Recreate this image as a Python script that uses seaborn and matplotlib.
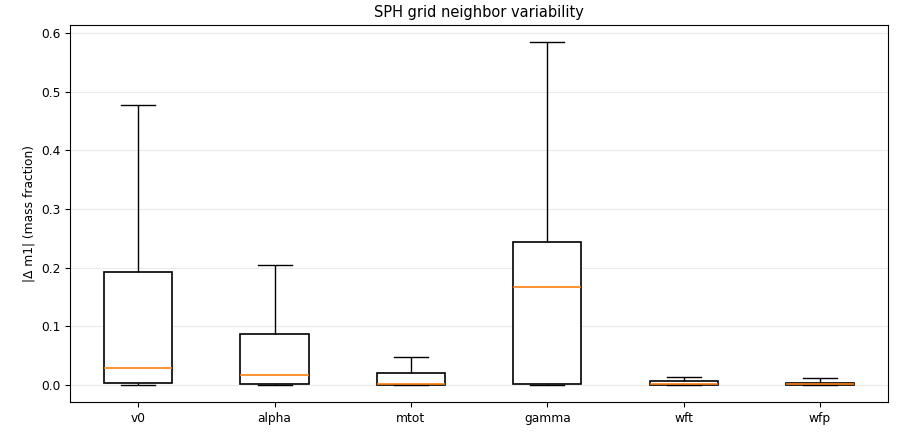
import numpy as np
import pandas as pd
import seaborn as sns
import matplotlib.pyplot as plt

# five-number summaries (min, q1, median, q3, max)
params = ["v0", "alpha", "mtot", "gamma", "wft", "wfp"]
mins = [0.0, 0.0, 0.0, 0.0, 0.0, 0.0]
q1s = [0.004, 0.002, 0.0005, 0.001, 0.0005, 0.0005]
medians = [0.029, 0.017, 0.002, 0.167, 0.002, 0.002]
q3s = [0.193, 0.086, 0.021, 0.244, 0.0065, 0.004]
maxs = [0.478, 0.205, 0.048, 0.585, 0.014, 0.011]

# 5 points per group -> linear percentiles hit q1/median/q3 exactly
rows = []
for p, a, b, c, d, e in zip(params, mins, q1s, medians, q3s, maxs):
    for v in (a, b, c, d, e):
        rows.append({"param": p, "dm1": v})
df = pd.DataFrame(rows)

plt.rcParams["font.size"] = 8.8

fig, ax = plt.subplots(figsize=(8.98, 4.37), dpi=100)
sns.boxplot(data=df, x="param", y="dm1", order=params, whis=(0, 100),
            showfliers=False, width=0.5, color="white", linecolor="black",
            linewidth=1.0,
            boxprops={"linewidth": 1.2},
            medianprops={"color": "#ff7f0e", "linewidth": 1.2},
            ax=ax)

ax.yaxis.grid(True, color="#ebebeb", linewidth=0.8)
ax.set_axisbelow(True)
ax.set_xlabel("")
ax.set_ylabel("|Δ m1| (mass fraction)")
ax.set_title("SPH grid neighbor variability", fontsize=10.5)
ax.margins(y=0.05)

plt.subplots_adjust(left=0.078, right=0.989, top=0.943, bottom=0.08)
plt.savefig("out.png", dpi=100)
